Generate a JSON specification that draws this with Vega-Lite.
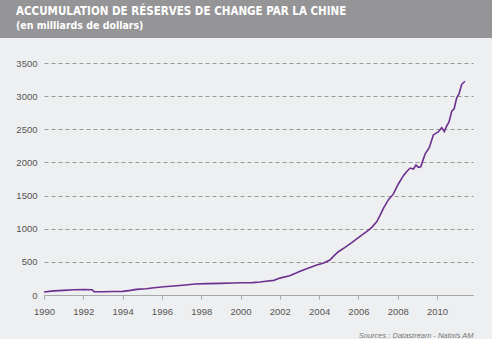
{
  "$schema": "https://vega.github.io/schema/vega-lite/v6.json",
  "background": "#eeeff0",
  "padding": 0,
  "spacing": 20,
  "config": {"view": {"stroke": null}},
  "resolve": {"scale": {"x": "independent", "y": "independent"}},
  "vconcat": [
    {
      "width": 492,
      "height": 38,
      "view": {"fill": "#959597", "stroke": null},
      "data": {"values": [
        {"line": 1, "t": "ACCUMULATION DE RÉSERVES DE CHANGE PAR LA CHINE"},
        {"line": 2, "t": "(en milliards de dollars)"}
      ]},
      "encoding": {
        "y": {"field": "line", "type": "ordinal", "scale": {"type": "point", "padding": 0.857}, "axis": null},
        "text": {"field": "t"}
      },
      "layer": [
        {
          "transform": [{"filter": "datum.line == 1"}],
          "mark": {"type": "text", "align": "left", "baseline": "middle", "font": "Liberation Sans Narrow, DejaVu Sans Condensed, sans-serif", "fontSize": 11.5, "fontWeight": "bold", "color": "#ffffff", "x": 16}
        },
        {
          "transform": [{"filter": "datum.line == 2"}],
          "mark": {"type": "text", "align": "left", "baseline": "middle", "font": "Liberation Sans Narrow, DejaVu Sans Condensed, sans-serif", "fontSize": 10.5, "fontWeight": "bold", "color": "#ffffff", "x": 16}
        }
      ]
    },
    {
      "width": 473,
      "height": 232,
      "data": {"values": [
        {"year": 1990.0, "value": 45},
        {"year": 1990.5, "value": 62},
        {"year": 1991.0, "value": 70},
        {"year": 1991.5, "value": 80},
        {"year": 1992.0, "value": 82},
        {"year": 1992.45, "value": 80},
        {"year": 1992.55, "value": 50},
        {"year": 1993.0, "value": 50},
        {"year": 1993.5, "value": 52},
        {"year": 1994.0, "value": 55},
        {"year": 1994.4, "value": 70},
        {"year": 1994.7, "value": 85},
        {"year": 1995.2, "value": 95},
        {"year": 1995.6, "value": 110},
        {"year": 1996.1, "value": 125},
        {"year": 1996.6, "value": 136},
        {"year": 1997.2, "value": 152},
        {"year": 1997.7, "value": 166},
        {"year": 1998.3, "value": 172},
        {"year": 1999.0, "value": 176},
        {"year": 1999.6, "value": 180},
        {"year": 2000.0, "value": 184},
        {"year": 2000.6, "value": 187},
        {"year": 2001.0, "value": 195},
        {"year": 2001.3, "value": 207},
        {"year": 2001.7, "value": 221},
        {"year": 2002.0, "value": 255},
        {"year": 2002.5, "value": 290},
        {"year": 2002.86, "value": 336},
        {"year": 2003.0, "value": 355},
        {"year": 2003.4, "value": 400},
        {"year": 2003.88, "value": 452},
        {"year": 2004.2, "value": 480},
        {"year": 2004.55, "value": 527},
        {"year": 2004.75, "value": 590},
        {"year": 2004.98, "value": 653},
        {"year": 2005.3, "value": 715},
        {"year": 2005.66, "value": 789},
        {"year": 2006.17, "value": 904},
        {"year": 2006.5, "value": 975},
        {"year": 2006.68, "value": 1020},
        {"year": 2006.93, "value": 1105},
        {"year": 2007.1, "value": 1200},
        {"year": 2007.27, "value": 1306},
        {"year": 2007.52, "value": 1435},
        {"year": 2007.78, "value": 1525},
        {"year": 2008.03, "value": 1675},
        {"year": 2008.29, "value": 1800},
        {"year": 2008.45, "value": 1860},
        {"year": 2008.63, "value": 1915},
        {"year": 2008.8, "value": 1900},
        {"year": 2008.93, "value": 1960},
        {"year": 2009.05, "value": 1925},
        {"year": 2009.17, "value": 1935},
        {"year": 2009.39, "value": 2125},
        {"year": 2009.61, "value": 2225},
        {"year": 2009.81, "value": 2415},
        {"year": 2010.06, "value": 2460},
        {"year": 2010.24, "value": 2525},
        {"year": 2010.37, "value": 2465},
        {"year": 2010.49, "value": 2550},
        {"year": 2010.61, "value": 2610},
        {"year": 2010.75, "value": 2775},
        {"year": 2010.87, "value": 2810},
        {"year": 2011.0, "value": 2975},
        {"year": 2011.12, "value": 3035},
        {"year": 2011.25, "value": 3175},
        {"year": 2011.42, "value": 3225}
      ]},
      "mark": {"type": "line", "color": "#6c2f8f", "strokeWidth": 1.6},
      "encoding": {
        "x": {
          "field": "year", "type": "quantitative",
          "scale": {"domain": [1990, 2011.83], "range": [44, 473], "nice": false, "zero": false},
          "axis": {
            "values": [1990, 1992, 1994, 1996, 1998, 2000, 2002, 2004, 2006, 2008, 2010],
            "format": "d", "grid": false, "labelFlush": false, "labelOverlap": false,
            "domainColor": "#a8a8a8", "tickColor": "#a8a8a8", "tickSize": 4,
            "labelPadding": 7, "labelFont": "Liberation Sans", "labelFontSize": 9.5, "labelColor": "#555555",
            "title": "Sources : Datastream - Natixis AM", "titleAnchor": "end",
            "titleFont": "Liberation Sans", "titleFontStyle": "italic", "titleFontWeight": "normal",
            "titleFontSize": 7.5, "titleColor": "#777777", "titlePadding": 16
          }
        },
        "y": {
          "field": "value", "type": "quantitative",
          "scale": {"domain": [0, 3500], "nice": false},
          "axis": {
            "values": [0, 500, 1000, 1500, 2000, 2500, 3000, 3500],
            "format": "d", "offset": -44,
            "domain": false, "ticks": false, "labelPadding": 7, "labelFlush": false,
            "labelFont": "Liberation Sans", "labelFontSize": 9.5, "labelColor": "#555555",
            "gridColor": "#999999", "gridDash": [4, 3], "gridWidth": 1, "title": null
          }
        }
      }
    }
  ]
}
